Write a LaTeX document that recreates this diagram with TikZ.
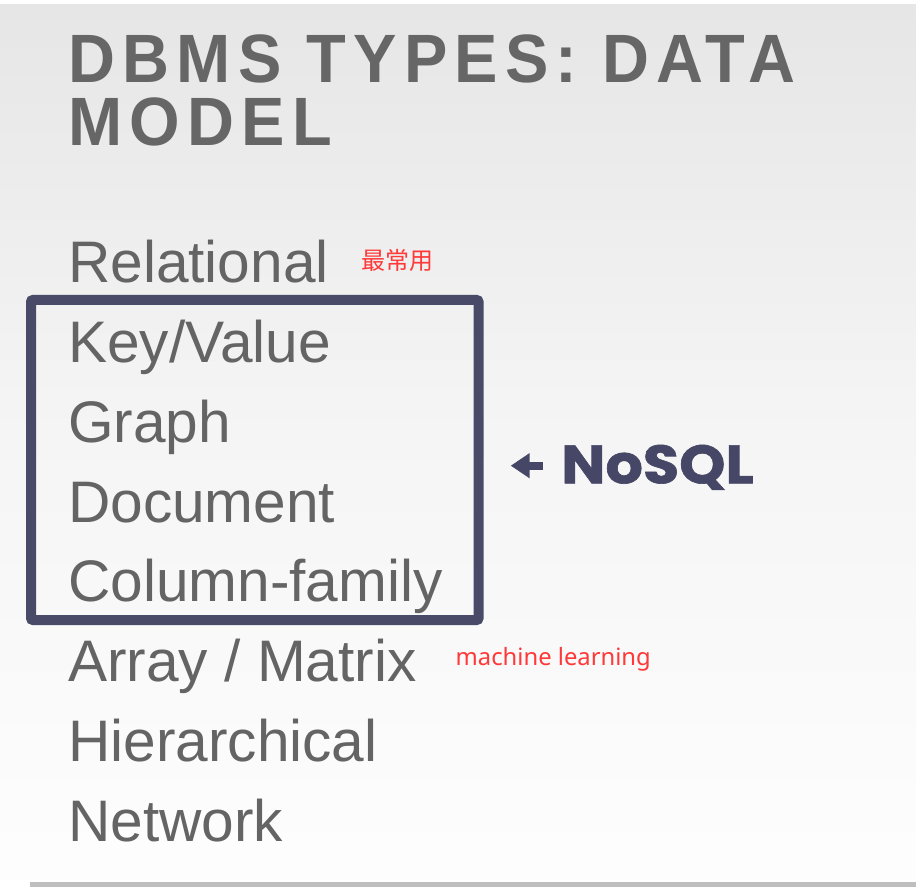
\documentclass[tikz,border=0pt]{standalone}
\usepackage{fontspec}
\usetikzlibrary{arrows.meta}
\setmainfont{Liberation Sans}
\newfontfamily\titlefont[FakeStretch=0.95,LetterSpace=10.5]{Liberation Sans Bold}
\newfontfamily\cjkfont{Noto Sans CJK SC}
\newfontfamily\notefont{Noto Sans}
\newfontfamily\nosqlfont[FakeStretch=1.09,FakeBold=1.2]{Poppins}
\definecolor{titlegray}{RGB}{102,102,102}
\definecolor{itemgray}{RGB}{100,100,100}
\definecolor{boxblue}{RGB}{72,74,104}
\definecolor{nosqlblue}{RGB}{70,71,102}
\definecolor{notered}{RGB}{255,56,56}
\definecolor{rulegray}{RGB}{190,190,190}
\definecolor{bgtop}{RGB}{230,230,230}
\definecolor{bgmid}{RGB}{245,245,245}
\definecolor{bgbot}{RGB}{253,253,253}
\tikzset{
  titletext/.style={anchor=base west,inner sep=0pt,text=titlegray,font=\titlefont\fontsize{68.4}{70}\selectfont},
  itemtext/.style={anchor=base west,inner sep=0pt,text=itemgray,font=\fontsize{58.6}{60}\selectfont},
  notetext/.style={anchor=base west,inner sep=0pt,text=notered},
  groupbox/.style={draw=boxblue,line width=10pt,rounded corners=2pt},
  pointer/.style={draw=nosqlblue,line width=8pt,-{Triangle[length=19pt,width=24pt]}},
}
\begin{document}
\begin{tikzpicture}[x=1pt,y=-1pt]
\useasboundingbox (0,0) rectangle (916,890);
% background
\fill[white] (0,0) rectangle (916,890);
\shade[top color=bgtop,bottom color=bgbot,middle color=bgmid] (0,5) rectangle (916,858);
\fill[bgbot] (0,858) rectangle (916,880);
% title
\node[titletext] (t1) at (68.5,83) {DBMS TYPES: DATA};
\node[titletext] (t2) at (68.5,145.5) {MODEL};
% items
\node[itemtext] (rel) at (68,282.7) {Relational};
\node[itemtext] (kv) at (68,362.5) {Key/Value};
\node[itemtext] (gr) at (68,442.2) {Graph};
\node[itemtext] (doc) at (68,522) {Document};
\node[itemtext] (col) at (68,601.7) {Column-family};
\node[itemtext] (arr) at (68,681.5) {Array / Matrix};
\node[itemtext] (hier) at (68,761.2) {Hierarchical};
\node[itemtext] (net) at (68,841) {Network};
% notes
\node[notetext,font=\cjkfont\fontsize{24}{25}\selectfont] (common) at (361.5,270) {最常用};
\node[notetext,font=\notefont\fontsize{23.8}{25}\selectfont] (ml) at (455.5,665) {machine learning};
% NoSQL group
\draw[groupbox] (31,300) rectangle (478.5,620);
\node[anchor=base west,inner sep=0pt,text=nosqlblue,font=\nosqlfont\bfseries\fontsize{54}{56}\selectfont] (nosql) at (561,483.3) {NoSQL};
\coordinate (tail) at (543,465.7);
\coordinate (tip) at (510.7,465.7);
\draw[pointer] (tail) -- (tip);
% bottom rule
\draw[rulegray,line width=4.5pt] (30,884.5) -- (916,884.5);
\end{tikzpicture}
\end{document}
